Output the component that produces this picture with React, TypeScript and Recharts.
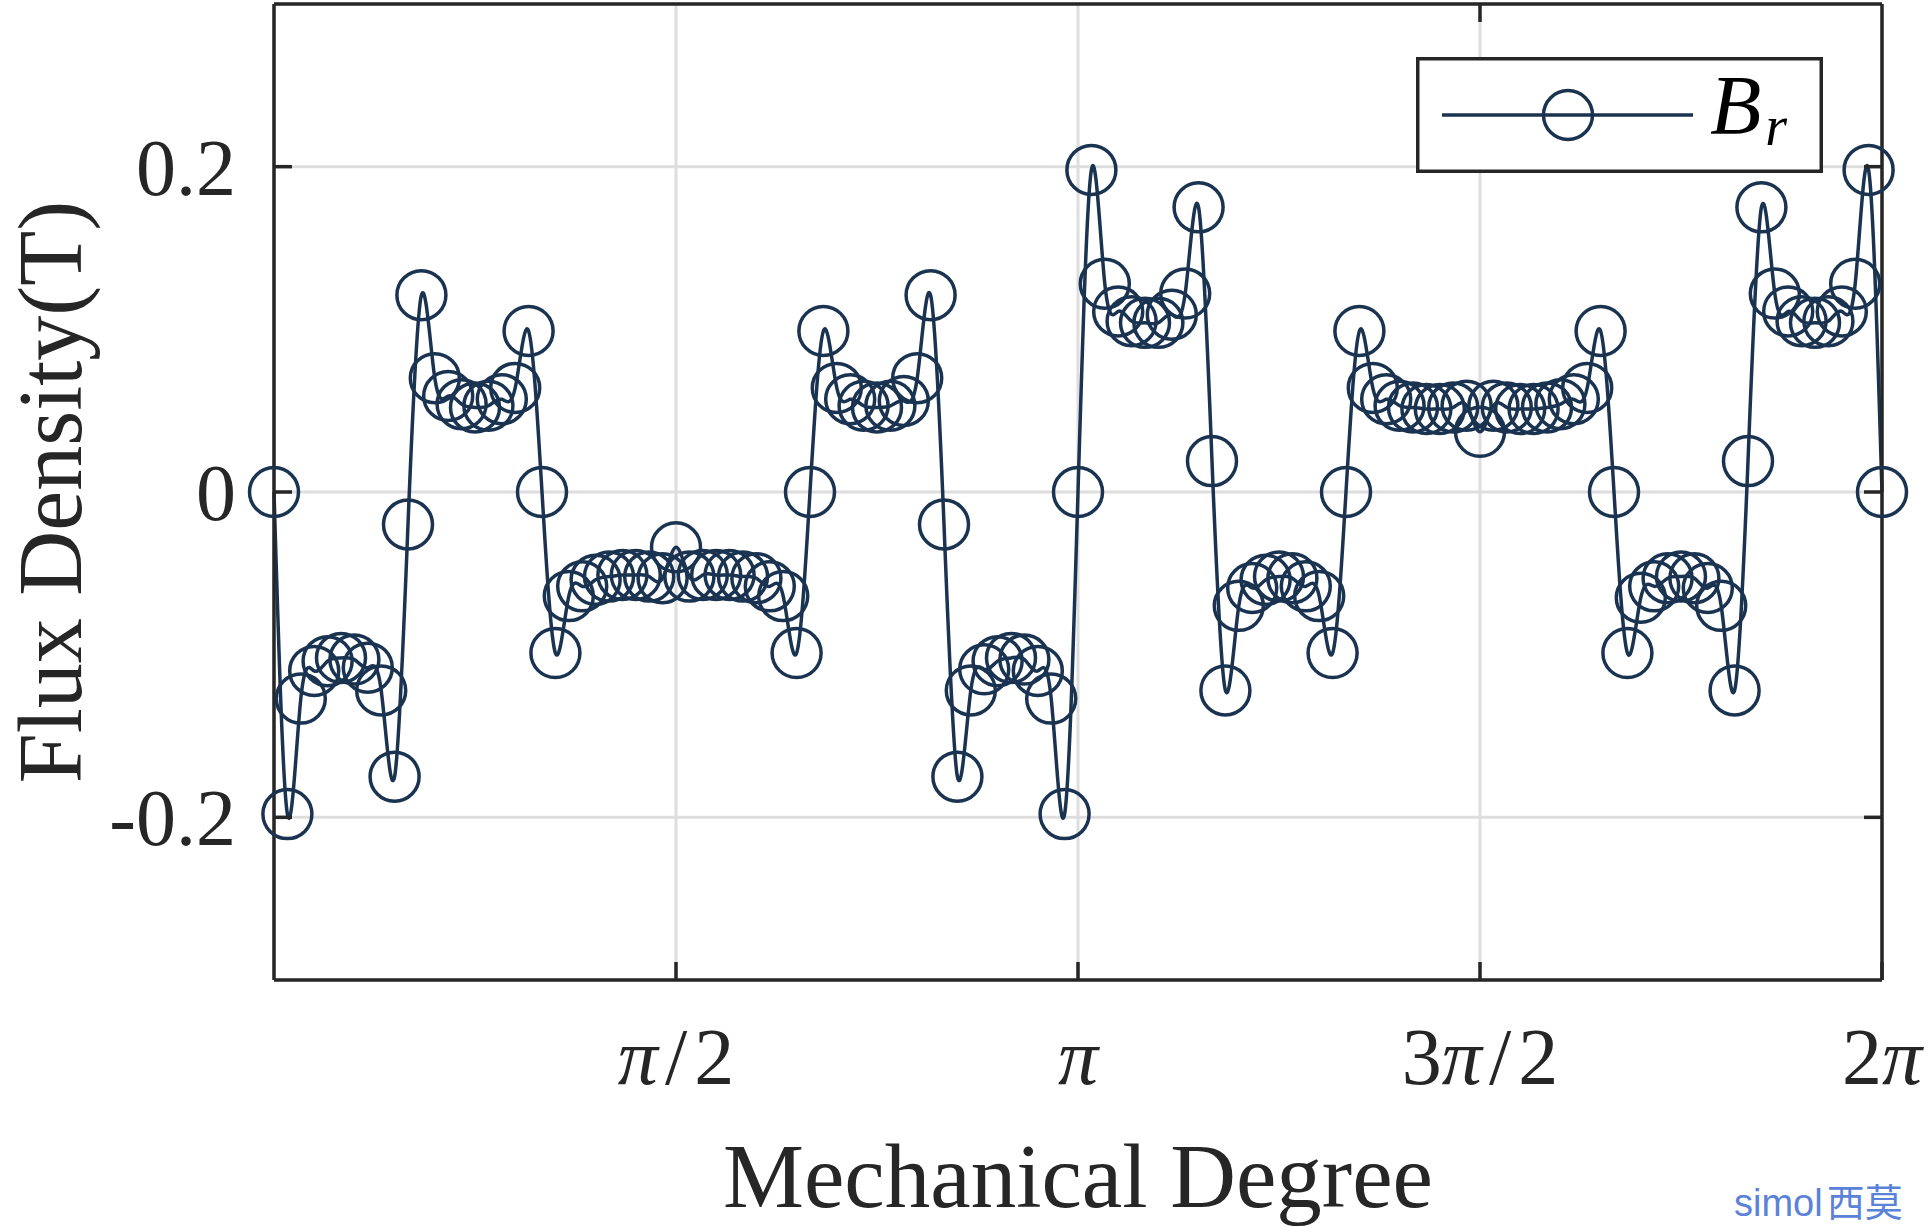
import React from 'react';
import { ComposedChart, Line, XAxis, YAxis, CartesianGrid, Legend, Label } from 'recharts';

// mechanical angle of each sample, degrees (3 deg step)
const degrees = [
  0, 3, 6, 9, 12, 15, 18, 21, 24, 27, 30, 33, 36, 39, 42, 45, 48, 51, 54, 57,
  60, 63, 66, 69, 72, 75, 78, 81, 84, 87, 90, 93, 96, 99, 102, 105, 108, 111, 114, 117,
  120, 123, 126, 129, 132, 135, 138, 141, 144, 147, 150, 153, 156, 159, 162, 165, 168, 171, 174, 177,
  180, 183, 186, 189, 192, 195, 198, 201, 204, 207, 210, 213, 216, 219, 222, 225, 228, 231, 234, 237,
  240, 243, 246, 249, 252, 255, 258, 261, 264, 267, 270, 273, 276, 279, 282, 285, 288, 291, 294, 297,
  300, 303, 306, 309, 312, 315, 318, 321, 324, 327, 330, 333, 336, 339, 342, 345, 348, 351, 354, 357,
  360,
];

// radial flux density Br (T)
const brValues = [
  0, -0.198, -0.127, -0.11, -0.104, -0.102, -0.103, -0.108, -0.122, -0.175,
  -0.02, 0.121, 0.07, 0.059, 0.054, 0.052, 0.053, 0.057, 0.064, 0.099,
  0, -0.099, -0.064, -0.058, -0.054, -0.052, -0.051, -0.051, -0.052, -0.053,
  -0.034, -0.052, -0.051, -0.051, -0.051, -0.052, -0.053, -0.058, -0.064, -0.099,
  0, 0.099, 0.064, 0.057, 0.053, 0.052, 0.053, 0.056, 0.07, 0.121,
  -0.02, -0.175, -0.122, -0.109, -0.104, -0.102, -0.103, -0.11, -0.127, -0.198,
  0, 0.198, 0.128, 0.111, 0.105, 0.104, 0.104, 0.109, 0.122, 0.175,
  0.019, -0.122, -0.07, -0.059, -0.054, -0.052, -0.053, -0.058, -0.064, -0.099,
  0, 0.099, 0.064, 0.057, 0.053, 0.052, 0.051, 0.051, 0.052, 0.053,
  0.037, 0.053, 0.052, 0.051, 0.051, 0.052, 0.054, 0.057, 0.064, 0.099,
  0, -0.099, -0.065, -0.058, -0.053, -0.052, -0.053, -0.059, -0.07, -0.122,
  0.019, 0.175, 0.122, 0.111, 0.105, 0.104, 0.105, 0.111, 0.128, 0.198,
  0,
];

const xTicks = [90, 180, 270, 360];
const xTickLabels = ['π/2', 'π', '3π/2', '2π'];
const yTicks = [-0.2, 0, 0.2];
const yTickLabels = ['-0.2', '0', '0.2'];

const data = degrees.map((d, i) => ({ deg: d, br: brValues[i] }));

const LINE = '#1a3350';
const AXIS = '#262626';
const SERIF = '"Liberation Serif", "Times New Roman", serif';

const XTick = (props: any) => {
  const { x, y, payload } = props;
  const label = xTickLabels[xTicks.indexOf(payload.value)] || '';
  const chars = label.split('');
  return (
    <g>
      <line x1={x} y1={y} x2={x} y2={y - 18} stroke={AXIS} strokeWidth={3.5} />
      <text x={x} y={y + 104} textAnchor="middle" fontFamily={SERIF} fontSize={80} fill={AXIS}>
        {chars.map((c, k) => (
          <tspan
            key={k}
            fontStyle={c === 'π' ? 'italic' : 'normal'}
            dx={c === '/' || chars[k - 1] === '/' ? 7 : 0}
          >
            {c}
          </tspan>
        ))}
      </text>
    </g>
  );
};

const YTick = (props: any) => {
  const { x, y, payload } = props;
  const label = yTickLabels[yTicks.indexOf(payload.value)] || '';
  return (
    <g>
      <line x1={x} y1={y} x2={x + 18} y2={y} stroke={AXIS} strokeWidth={3.5} />
      <text x={x - 38} y={y + 28} textAnchor="end" fontFamily={SERIF} fontSize={80} fill={AXIS}>
        {label}
      </text>
    </g>
  );
};

const TopTick = (props: any) => {
  const { x, y } = props;
  return <line x1={x} y1={y} x2={x} y2={y + 18} stroke={AXIS} strokeWidth={3.5} />;
};

const RightTick = (props: any) => {
  const { x, y } = props;
  return <line x1={x} y1={y} x2={x - 18} y2={y} stroke={AXIS} strokeWidth={3.5} />;
};

const LegendBox = () => (
  <svg width={408} height={118}>
    <rect x={1.75} y={1.75} width={403.5} height={112.5} fill="#fff" stroke={AXIS} strokeWidth={3.5} />
    <line x1={26} y1={58} x2={277} y2={58} stroke={LINE} strokeWidth={3.5} />
    <circle cx={152} cy={58} r={24.5} fill="none" stroke={LINE} strokeWidth={3.5} />
    <text x={294} y={77} fontFamily={SERIF} fontStyle="italic" fontSize={84} fill="#000">
      B
      <tspan fontSize={56} dx={4} dy={11}>r</tspan>
    </text>
  </svg>
);

export default function App() {
  return (
    <div style={{ position: 'absolute', left: 0, top: 0, width: 1929, height: 1227, background: '#fff' }}>
      <ComposedChart
        width={1929}
        height={1227}
        data={data}
        margin={{ top: 0, right: 0, bottom: 0, left: 0 }}
      >
        <CartesianGrid stroke="#dedede" strokeWidth={3} />
        <XAxis
          dataKey="deg"
          type="number"
          domain={[0, 360]}
          ticks={xTicks}
          interval={0}
          height={247}
          tickSize={0}
          tickMargin={0}
          tick={<XTick />}
          axisLine={{ stroke: AXIS, strokeWidth: 3.5 }}
        >
          <Label
            content={(p: any) => {
              const vb = p.viewBox;
              return (
                <text x={vb.x + vb.width / 2} y={1207} textAnchor="middle" fontFamily={SERIF} fontSize={91} fill={AXIS}>
                  Mechanical Degree
                </text>
              );
            }}
          />
        </XAxis>
        <XAxis
          xAxisId="top"
          orientation="top"
          type="number"
          domain={[0, 360]}
          ticks={xTicks}
          interval={0}
          height={4}
          tickSize={0}
          tickMargin={0}
          tick={<TopTick />}
          axisLine={{ stroke: AXIS, strokeWidth: 3.5 }}
          allowDataOverflow
        />
        <YAxis
          type="number"
          domain={[-0.3, 0.3]}
          ticks={yTicks}
          interval={0}
          width={274}
          tickSize={0}
          tickMargin={0}
          tick={<YTick />}
          axisLine={{ stroke: AXIS, strokeWidth: 3.5 }}
        >
          <Label
            content={(p: any) => {
              const vb = p.viewBox;
              const cy = vb.y + vb.height / 2;
              return (
                <text
                  x={81}
                  y={cy}
                  transform={`rotate(-90, 81, ${cy})`}
                  textAnchor="middle"
                  fontFamily={SERIF}
                  fontSize={90}
                  fill={AXIS}
                >
                  Flux Density(T)
                </text>
              );
            }}
          />
        </YAxis>
        <YAxis
          yAxisId="right"
          orientation="right"
          type="number"
          domain={[-0.3, 0.3]}
          ticks={yTicks}
          interval={0}
          width={47}
          tickSize={0}
          tickMargin={0}
          tick={<RightTick />}
          axisLine={{ stroke: AXIS, strokeWidth: 3.5 }}
          allowDataOverflow
        />
        <Legend
          verticalAlign="middle"
          align="center"
          content={() => <LegendBox />}
          wrapperStyle={{ position: 'absolute', left: 1416, top: 57, width: 408, height: 118 }}
        />
        <Line
          dataKey="br"
          type="natural"
          stroke={LINE}
          strokeWidth={3.5}
          dot={{ r: 24.5, fill: 'none', stroke: LINE, strokeWidth: 3.5, clipDot: false }}
          activeDot={false}
          isAnimationActive={false}
        />
      </ComposedChart>
      <div
        style={{
          position: 'absolute',
          left: 1734,
          top: 1180,
          fontSize: 38,
          color: '#5b82d9',
          fontFamily: '"Liberation Sans", Arial, sans-serif',
          whiteSpace: 'nowrap',
          lineHeight: '40px',
          height: 40,
        }}
      >
        simol<span style={{ fontFamily: '"Noto Sans CJK SC", sans-serif', marginLeft: 4 }}>西莫</span>
      </div>
    </div>
  );
}
